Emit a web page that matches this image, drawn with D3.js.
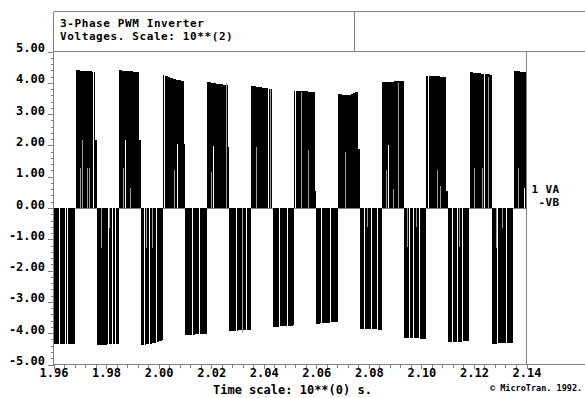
<!DOCTYPE html>
<html>
<head>
<meta charset="utf-8">
<script src="https://cdn.jsdelivr.net/npm/d3@7"></script>
<style>
  html, body { margin: 0; padding: 0; background: #fff; }
  svg { display: block; }
  text { font-family: "DejaVu Sans Mono", "Liberation Mono", monospace; font-weight: bold; fill: #000; }
</style>
</head>
<body>
<svg id="chart" width="585" height="398"></svg>
<script>
// Line-to-line voltage VA - VB of a 3-phase PWM inverter, in units of 100 V.
// Each half cycle is a dense pulse train; its envelope is given by start / mid / end peaks.

// Positive half cycles
const posStart     = [1.9684, 1.9851, 2.0017, 2.0184, 2.0351, 2.0517, 2.0684, 2.0851, 2.1017, 2.1184, 2.1351];
const posEnd       = [1.9767, 1.9933, 2.0100, 2.0267, 2.0433, 2.0600, 2.0767, 2.0933, 2.1100, 2.1267, 2.1400];
const posPeakStart = [4.40, 4.40, 4.26, 4.03, 3.91, 3.75, 3.64, 4.03, 4.23, 4.34, 4.38];
const posPeakMid   = [4.38, 4.37, 4.12, 3.97, 3.85, 3.73, 3.60, 4.04, 4.21, 4.30, 4.36];
const posPeakEnd   = [4.34, 4.34, 4.05, 3.92, 3.80, 3.70, 3.76, 4.06, 4.18, 4.26, 4.34];

// Negative half cycles
const negStart     = [1.9600, 1.9767, 1.9934, 2.0100, 2.0267, 2.0434, 2.0600, 2.0767, 2.0934, 2.1100, 2.1267];
const negEnd       = [1.9683, 1.9850, 2.0016, 2.0183, 2.0350, 2.0516, 2.0683, 2.0850, 2.1016, 2.1183, 2.1350];
const negPeakStart = [-4.34, -4.37, -4.39, -4.06, -3.94, -3.80, -3.70, -3.86, -4.15, -4.28, -4.34];
const negPeakMid   = [-4.34, -4.36, -4.33, -4.04, -3.91, -3.78, -3.67, -3.87, -4.16, -4.27, -4.32];
const negPeakEnd   = [-4.34, -4.34, -4.23, -4.02, -3.89, -3.75, -3.64, -3.89, -4.18, -4.26, -4.30];

// Zero-voltage notches inside the pulse trains: [time, from, to]
const notches = [
  [1.96228, 0, -4.5], [1.96457, 0, -4.5], [1.96533, 0, -4.5],
  [1.97534, 0, 4.5],
  [1.98074, 0, -4.5], [1.98257, 0, -4.5], [1.98359, 0, -4.5],
  [1.98740, 0, 2.18],
  [1.99463, 0, -4.5], [1.99653, 0, -4.5], [1.99908, 0, -4.5],
  [2.00243, 0, 4.5], [2.00730, 0, 2.05],
  [2.01271, 0, -4.5], [2.01556, 0, -4.5],
  [2.02070, 0, 1.99],
  [2.02953, 0, -4.5], [2.03333, 0, -4.5],
  [2.04193, 0, 4.5],
  [2.04600, 0, -4.5], [2.04905, 0, -4.5],
  [2.05228, 0, 4.5],
  [2.06210, 0, -4.5], [2.06541, 0, -4.5],
  [2.07835, 0, -4.5], [2.08101, 0, -4.5], [2.08341, 0, -4.5],
  [2.08760, 0, 2.02],
  [2.09548, 0, -4.5], [2.09681, 0, -4.5], [2.09928, 0, -4.5],
  [2.10282, 0, 4.5],
  [2.11195, 0, -4.5], [2.11386, 0, -4.5], [2.11576, 0, -4.5],
  [2.12402, 0, 4.5],
  [2.12908, 0, -4.5], [2.13227, 0, -4.5],
  [2.13924, 0, 0.63]
];

// Partial-level switching spikes: [time, from, to]
const spikes = [
  [1.97016, 0, 1.27], [1.97085, 0, 2.18], [1.97305, 0, 1.27], [1.97370, 0, 1.27],
  [1.97838, 0, -1.29], [1.98131, 0, -0.65],
  [1.98664, 0, 1.27], [1.98949, 0, 0.64],
  [1.99528, 0, -1.29], [1.99779, 0, -1.29],
  [2.00605, 0, 1.22],
  [2.02024, 0, 1.16], [2.02572, 0, 4.0],
  [2.03204, 0, -4.0],
  [2.03737, 0, 1.94], [2.04258, 0, 3.8],
  [2.05419, 0, 3.7], [2.05715, 0, 1.84],
  [2.07101, 0, 1.80],
  [2.07961, 0, -0.60],
  [2.08684, 0, 1.22], [2.08950, 0, 0.60], [2.09140, 0, 4.0],
  [2.09483, 0, -1.25], [2.09802, 0, -0.60],
  [2.10624, 0, 1.20], [2.10716, 0, 0.70],
  [2.11450, 0, -1.25],
  [2.12021, 0, 1.27], [2.12337, 0, 1.27], [2.12565, 0, 4.2],
  [2.12847, 0, -1.29], [2.13098, 0, -0.65],
  [2.13695, 0, 1.27]
];

// Last short pulse of a half cycle at a reduced level: [from, to, level]
const tails = [
  [1.97591, 1.9767, 2.18],
  [1.99254, 1.9933, 2.18],
  [2.00966, 2.0100, 2.05],
  [2.02629, 2.0267, 1.96],
  [2.05963, 2.0600, 0.55],
  [2.07588, 2.0767, 1.88],
  [2.10948, 2.1100, 0.55]
];

// Axes
const yTickValues = [-5, -4, -3, -2, -1, 0, 1, 2, 3, 4, 5];
const yTickLabels = ["-5.00", "-4.00", "-3.00", "-2.00", "-1.00", "0.00", "1.00", "2.00", "3.00", "4.00", "5.00"];
const xTickValues = [1.96, 1.98, 2.00, 2.02, 2.04, 2.06, 2.08, 2.10, 2.12, 2.14];
const xTickLabels = ["1.96", "1.98", "2.00", "2.02", "2.04", "2.06", "2.08", "2.10", "2.12", "2.14"];

const titleLines = ["3-Phase PWM Inverter", "Voltages. Scale: 10**(2)"];
const xTitle = "Time scale: 10**(0) s.";
const legendLines = ["1 VA", "-VB"];
const credit = "\u00A9 MicroTran. 1992.";

const frameColor = "#808080";

const svg = d3.select("#chart");
const x = d3.scaleLinear().domain([1.96, 2.14]).range([53.5, 526.5]);
const y = d3.scaleLinear().domain([-5, 5]).range([364.5, 51.5]);
const px = t => Math.floor(x(t)) + 0.5;

// zero line
const y0 = Math.round(y(0)) + 0.5;
svg.append("line")
  .attr("x1", x(1.96)).attr("x2", x(2.14))
  .attr("y1", y0).attr("y2", y0)
  .attr("stroke", frameColor).attr("shape-rendering", "crispEdges");

// pulse trains
const area = d3.area()
  .x(d => x(d[0]))
  .y0(y(0))
  .y1(d => y(d[1]));

const blocks = [];
posStart.forEach((t0, i) => {
  const t1 = posEnd[i];
  blocks.push([[t0, posPeakStart[i]], [(t0 + t1) / 2, posPeakMid[i]], [t1, posPeakEnd[i]]]);
});
negStart.forEach((t0, i) => {
  const t1 = negEnd[i];
  blocks.push([[t0, negPeakStart[i]], [(t0 + t1) / 2, negPeakMid[i]], [t1, negPeakEnd[i]]]);
});

svg.append("g").selectAll("path")
  .data(blocks)
  .join("path")
  .attr("d", area)
  .attr("fill", "#000")
  .attr("shape-rendering", "crispEdges");

// reduced-level tails
svg.append("g").selectAll("rect")
  .data(tails)
  .join("rect")
  .attr("x", d => x(d[0]))
  .attr("width", d => Math.max(1, x(d[1]) - x(d[0])))
  .attr("y", y(4.8))
  .attr("height", d => y(d[2]) - y(4.8))
  .attr("fill", "#fff")
  .attr("shape-rendering", "crispEdges");

// zero-voltage notches
svg.append("g").selectAll("line")
  .data(notches)
  .join("line")
  .attr("x1", d => px(d[0])).attr("x2", d => px(d[0]))
  .attr("y1", d => y(d[1])).attr("y2", d => y(d[2]))
  .attr("stroke", "#fff")
  .attr("shape-rendering", "crispEdges");

// partial spikes
svg.append("g").selectAll("line")
  .data(spikes)
  .join("line")
  .attr("x1", d => px(d[0])).attr("x2", d => px(d[0]))
  .attr("y1", d => y(d[1])).attr("y2", d => y(d[2]))
  .attr("stroke", "#9a9a9a")
  .attr("shape-rendering", "crispEdges");

// Y axis
const yMinor = d3.range(-5, 5.0001, 0.2).filter(v => Math.abs(v - Math.round(v)) > 1e-6);
const yAxisMinor = svg.append("g")
  .attr("transform", "translate(53.5,0)")
  .call(d3.axisLeft(y).tickValues(yMinor).tickSize(3).tickFormat(""));
const yAxis = svg.append("g")
  .attr("transform", "translate(53.5,0)")
  .call(d3.axisLeft(y).tickValues(yTickValues).tickSize(6).tickPadding(2.5)
    .tickFormat((d, i) => yTickLabels[i]));
yAxis.selectAll("text").attr("dy", "0").attr("font-size", 12);

// X axis
const xMinor = d3.range(1.96, 2.1401, 0.004).filter(v => Math.abs(v * 50 - Math.round(v * 50)) > 1e-6);
const xAxisMinor = svg.append("g")
  .attr("transform", "translate(0,364.5)")
  .call(d3.axisBottom(x).tickValues(xMinor).tickSize(3).tickFormat(""));
const xAxis = svg.append("g")
  .attr("transform", "translate(0,364.5)")
  .call(d3.axisBottom(x).tickValues(xTickValues).tickSize(4)
    .tickFormat((d, i) => xTickLabels[i]));
xAxis.selectAll("text").attr("y", 12.5).attr("dy", "0").attr("font-size", 12);

[yAxisMinor, yAxis, xAxisMinor, xAxis].forEach(g => {
  g.select(".domain").remove();
  g.selectAll(".tick line").attr("stroke", frameColor).attr("shape-rendering", "crispEdges");
  g.attr("font-family", null);
});

// frame
const frame = [
  [53.5, 11.5, 585, 11.5],
  [53.5, 11.5, 53.5, 51.5],
  [354.5, 11.5, 354.5, 51.5],
  [53.5, 51.5, 585, 51.5],
  [53.5, 51.5, 53.5, 364.5],
  [53.5, 364.5, 585, 364.5],
  [526.5, 51.5, 526.5, 364.5]
];
svg.append("g").selectAll("line")
  .data(frame)
  .join("line")
  .attr("x1", d => d[0]).attr("y1", d => d[1])
  .attr("x2", d => d[2]).attr("y2", d => d[3])
  .attr("stroke", frameColor)
  .attr("shape-rendering", "crispEdges");

// title
svg.append("g").selectAll("text")
  .data(titleLines)
  .join("text")
  .attr("x", 60)
  .attr("y", (d, i) => 27 + i * 13)
  .attr("font-size", 11)
  .attr("letter-spacing", 0.6)
  .text(d => d);

// legend
svg.append("g").selectAll("text")
  .data(legendLines)
  .join("text")
  .attr("x", 559.5)
  .attr("y", (d, i) => 193 + i * 13)
  .attr("text-anchor", "end")
  .attr("font-size", 11)
  .attr("letter-spacing", 0.4)
  .text(d => d);

// axis title
svg.append("text")
  .attr("x", 213)
  .attr("y", 394)
  .attr("font-size", 12)
  .text(xTitle);

// credit
svg.append("text")
  .attr("x", 490)
  .attr("y", 391)
  .attr("font-size", 8.5)
  .attr("font-weight", "normal")
  .text(credit);
</script>
</body>
</html>
